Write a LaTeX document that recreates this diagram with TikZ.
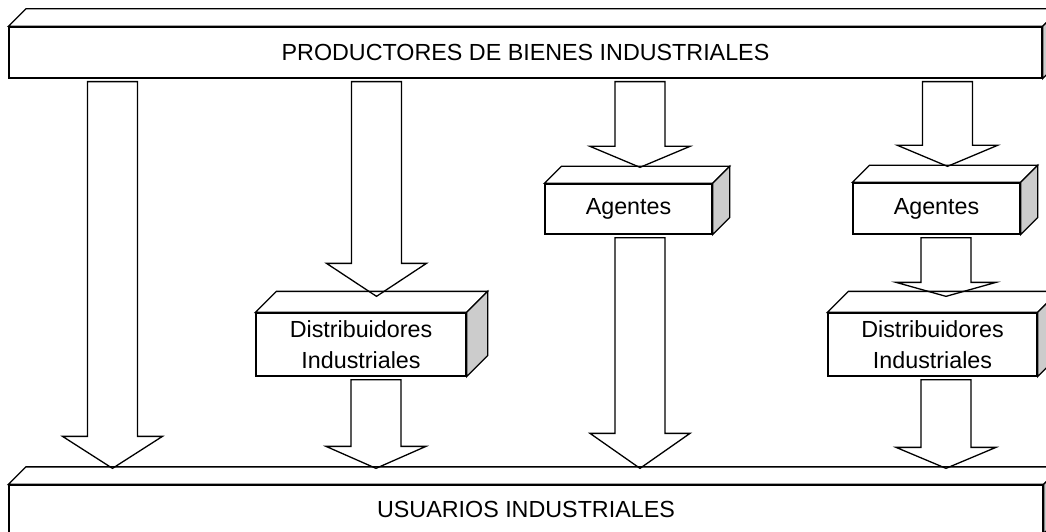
\documentclass[tikz,border=0pt]{standalone}
\usepackage{fontspec}
\setmainfont{Liberation Sans}
\usetikzlibrary{calc}
\definecolor{lado}{gray}{0.8}
\tikzset{
  caja/.style={draw, fill=white, line width=1.3pt, inner sep=0pt, align=center, font=\fontsize{23.3}{31}\selectfont},
  flecha/.style={draw, line width=1.3pt, line join=miter}
}
% cara de arriba y cara lateral de una caja
\newcommand{\cubo}[2]{%
  \filldraw[fill=white, line width=1.3pt] (#1.north west) -- ++(#2pt,#2pt) -- ($(#1.north east)+(#2pt,#2pt)$) -- (#1.north east) -- cycle;
  \filldraw[fill=lado, line width=1.3pt] (#1.north east) -- ++(#2pt,#2pt) -- ($(#1.south east)+(#2pt,#2pt)$) -- (#1.south east) -- cycle;
}
% flecha ancha: x, desde, hasta, largo de la punta
\newcommand{\flecha}[4]{%
  \draw[flecha] let \p1=(#2.south), \p2=(#3.north) in
    ({#1pt-25pt},{\y1-3pt}) -- ({#1pt-25pt},{\y2+16pt+#4pt}) -- ({#1pt-50pt},{\y2+16pt+#4pt})
    -- ({#1pt},{\y2+16pt}) -- ({#1pt+50pt},{\y2+16pt+#4pt}) -- ({#1pt+25pt},{\y2+16pt+#4pt})
    -- ({#1pt+25pt},{\y1-3pt}) -- cycle;
}
\begin{document}
\begin{tikzpicture}[x=1pt,y=1pt]
    \useasboundingbox (0,0) rectangle (1046,531);
    \clip (0,0) rectangle (1046,531);
    % cajas
    \node[caja, minimum width=1033pt, minimum height=51pt] (prod) at (525.5,478.5) {PRODUCTORES DE BIENES INDUSTRIALES};
    \cubo{prod}{17.5}
    \node[caja, minimum width=1034pt, minimum height=48pt] (users) at (526,22) {USUARIOS INDUSTRIALES};
    \cubo{users}{17.5}
    \node[caja, minimum width=167pt, minimum height=50pt] (agA) at (628.5,322) {Agentes};
    \cubo{agA}{17}
    \node[caja, minimum width=167pt, minimum height=51pt] (agB) at (936.5,322.5) {Agentes};
    \cubo{agB}{17}
    \node[caja, minimum width=210pt, minimum height=63pt] (distA) at (361,186.5) {Distribuidores\\Industriales};
    \cubo{distA}{21}
    \node[caja, minimum width=209pt, minimum height=63pt] (distB) at (932.5,186.5) {Distribuidores\\Industriales};
    \cubo{distB}{21}
    % flechas
    \flecha{112.5}{prod}{users}{32}
    \flecha{376.5}{prod}{distA}{33}
    \flecha{376}{distA}{users}{22}
    \flecha{640}{prod}{agA}{21}
    \flecha{640}{agA}{users}{35}
    \flecha{947.5}{prod}{agB}{21}
    \flecha{946}{agB}{distB}{14}
    \flecha{946}{distB}{users}{21}
\end{tikzpicture}
\end{document}
